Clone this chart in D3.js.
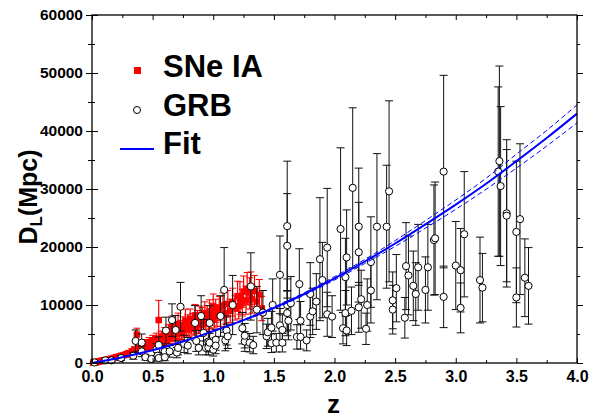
<!DOCTYPE html>
<html>
<head>
<meta charset="utf-8">
<script src="https://cdn.jsdelivr.net/npm/d3@7"></script>
<style>
  body { margin: 0; background: #fff; }
  svg { font-family: "Liberation Sans", Arial, sans-serif; font-weight: bold; }
</style>
</head>
<body>
<svg id="chart" width="590" height="420"></svg>
<script>
// SNe Ia: redshift, luminosity distance (Mpc), error
const snZ = [0.010,0.015,0.020,0.025,0.030,0.035,0.040,0.050,0.060,0.070,
  0.080,0.090,0.10,0.12,0.14,0.16,0.18,0.20,0.22,0.24,
  0.26,0.28,0.30,0.31,0.33,0.34,0.35,0.36,0.37,0.38,
  0.39,0.40,0.41,0.42,0.43,0.44,0.45,0.46,0.47,0.48,
  0.49,0.50,0.51,0.52,0.53,0.54,0.55,0.56,0.57,0.58,
  0.59,0.60,0.61,0.62,0.63,0.64,0.65,0.66,0.67,0.68,
  0.69,0.70,0.71,0.72,0.73,0.74,0.75,0.76,0.77,0.78,
  0.79,0.80,0.81,0.82,0.83,0.84,0.85,0.86,0.87,0.88,
  0.89,0.90,0.91,0.92,0.93,0.94,0.95,0.96,0.97,0.98,
  0.99,1.00,1.01,1.02,1.03,1.05,1.06,1.08,1.10,1.12,
  1.14,1.16,1.18,1.20,1.21,1.22,1.24,1.25,1.27,1.28,
  1.30,1.31,1.32,1.34,1.36,1.38,1.40];
const snD = [45,65,90,110,130,160,175,230,270,320,
  370,420,480,560,650,750,880,1000,1100,1250,
  1350,1500,1700,1500,2000,1750,2300,2100,4900,2500,
  2200,2700,2400,3100,2600,2900,3300,2750,3600,3000,
  3300,3900,3100,3500,4200,3300,7400,3800,4500,3600,
  4100,5000,4000,4600,5400,4300,4900,6300,4700,5300,
  5800,5000,6700,5400,6000,5200,6500,5700,7300,6100,
  6800,5900,7600,6400,7000,6200,8200,6700,7400,6500,
  8000,7100,7800,6800,8600,7300,8100,7000,8900,7600,
  8400,9700,7800,9000,8200,9400,8100,9900,8600,10200,
  9000,10500,9500,11500,9800,11200,10400,12300,10800,12800,
  12000,12900,11000,12400,10600,11800,9400];
const snErr = [10,14,20,25,30,35,40,50,60,70,
  80,90,110,120,140,170,200,220,240,280,
  300,330,380,330,450,400,500,460,1100,550,
  480,600,530,700,580,650,750,600,800,660,
  730,870,700,780,950,730,3400,850,1000,800,
  900,1100,880,1000,1200,950,1100,1800,1050,1200,
  1300,1100,1900,1200,1350,1150,1450,1250,2000,1350,
  1500,1300,1700,1400,1550,1400,1900,1500,1650,1450,
  1800,1600,1750,1500,1950,1600,1800,1550,2000,1700,
  1900,2200,1750,2000,1850,2100,1800,2200,1900,2300,
  2000,2400,2100,2600,2200,2800,2300,2700,2400,2800,
  2700,2800,2400,2700,2300,2600,2100];

// GRBs
const grbZ = [0.02,0.11,0.16,0.24,0.34,0.36,0.41,0.41,0.44,0.49,
  0.53,0.54,0.55,0.55,0.60,0.60,0.61,0.64,0.66,0.69,
  0.70,0.71,0.73,0.76,0.79,0.85,0.86,0.88,0.90,0.92,
  0.94,0.96,0.96,0.97,0.97,1.00,1.02,1.02,1.06,1.09,
  1.10,1.11,1.12,1.16,1.24,1.26,1.26,1.30,1.31,1.33,
  1.36,1.41,1.44,1.45,1.48,1.48,1.49,1.52,1.55,1.55,
  1.57,1.57,1.61,1.61,1.61,1.61,1.62,1.64,1.69,1.71,
  1.72,1.72,1.77,1.80,1.80,1.82,1.85,1.88,1.90,1.94,
  1.94,1.98,2.05,2.07,2.09,2.09,2.10,2.10,2.14,2.15,
  2.20,2.20,2.20,2.22,2.26,2.27,2.30,2.30,2.35,2.43,
  2.45,2.48,2.48,2.51,2.58,2.59,2.61,2.65,2.67,2.69,
  2.75,2.77,2.82,2.83,2.90,2.90,3.00,3.04,3.04,3.07,
  3.20,3.22,3.35,3.36,3.37,3.42,3.42,3.50,3.50,3.53,
  3.57,3.60];
const grbD = [100,450,450,860,1250,3800,3500,2000,1000,690,
  2300,1250,3100,860,2000,1000,5600,2000,7400,5700,
  1800,2600,9700,3300,3000,6900,3800,2600,8100,5200,
  2600,3700,2700,6900,3500,2300,4000,3000,8100,12600,
  3900,5600,4600,10000,6000,3700,4700,3500,13200,3100,
  9200,8700,4600,5300,6100,3400,10000,3500,15200,6500,
  5700,3500,23600,20200,8600,10000,7300,10300,4500,13600,
  7300,4500,3900,11900,8000,8900,10600,17900,14300,19900,
  8400,8000,23100,6000,8600,14800,5600,18200,9000,30200,
  23500,19100,9600,11000,5900,10000,12500,17400,23500,23500,
  29600,10800,9200,12900,7800,16700,15100,13300,11900,16500,
  12600,16500,21200,21500,33000,11400,16800,16000,9500,22200,
  14300,13000,33000,34800,30500,25800,25400,22600,11300,24800,
  14700,13300];
const grbErr = [60,200,250,400,600,1900,1500,900,500,400,
  1000,600,1400,500,1000,600,2300,1000,2800,2500,
  900,1200,4200,1500,1400,3000,1800,1200,3500,2300,
  1200,1700,1300,3000,1600,1100,1800,1400,3500,7300,
  1800,2500,2100,5100,2700,1700,2100,1600,5800,1500,
  4000,3800,2100,2400,2800,1600,4500,1600,6700,2900,
  2600,1600,11200,9000,3900,4500,3300,4600,2100,6100,
  3300,2100,1800,5400,3600,4000,4800,10600,6500,10200,
  3800,3600,14000,2700,3900,6700,2600,8200,4100,13800,
  10100,8600,4300,5000,2700,4500,5600,7800,12600,10600,
  15600,4900,4200,5800,3500,7500,6800,6000,5400,7400,
  5700,7400,9500,9700,16600,5300,7600,7200,4300,10800,
  7400,5900,14600,16400,13700,12700,11400,12200,5100,13000,
  6700,6600];

// fit curve and its band
const fitZ  = [0,0.25,0.5,0.75,1,1.25,1.5,1.75,2,2.25,2.5,2.75,3,3.25,3.5,3.75,4];
const fitD  = [0,1000,2200,3700,5500,7400,9500,11900,14600,17500,20600,23900,27300,30900,34800,38800,43000];
const fitHi = [0,1000,2200,3700,5550,7500,9650,12100,14900,17850,21100,24550,28100,31850,36000,40100,44500];
const fitLo = [0,1000,2200,3700,5450,7300,9350,11700,14300,17150,20100,23250,26500,29950,33600,37400,41400];

const xMajor = [0,0.5,1,1.5,2,2.5,3,3.5,4];
const xMinor = [0.25,0.75,1.25,1.75,2.25,2.75,3.25,3.75];
const yMajor = [0,10000,20000,30000,40000,50000,60000];
const yMinor = [5000,15000,25000,35000,45000,55000];

const plot = {left: 92, right: 577, top: 15, bottom: 363};
const svg = d3.select("#chart");
const x = d3.scaleLinear().domain([0, 4]).range([plot.left, plot.right]);
const y = d3.scaleLinear().domain([0, 60000]).range([plot.bottom, plot.top]);

// SNe Ia
const sn = snZ.map((z, i) => ({z: z, d: snD[i], e: snErr[i]}));
const snG = svg.append("g");
snG.selectAll(null).data(sn).enter().append("line")
  .attr("x1", d => x(d.z)).attr("x2", d => x(d.z))
  .attr("y1", d => y(d.d - d.e)).attr("y2", d => y(d.d + d.e))
  .attr("stroke", "#ff0000").attr("stroke-width", 1.2);
[-1, 1].forEach(s => {
  snG.selectAll(null).data(sn).enter().append("line")
    .attr("x1", d => x(d.z) - 3.5).attr("x2", d => x(d.z) + 3.5)
    .attr("y1", d => y(d.d + s * d.e)).attr("y2", d => y(d.d + s * d.e))
    .attr("stroke", "#ff0000").attr("stroke-width", 1);
});
snG.selectAll("rect").data(sn).enter().append("rect")
  .attr("x", d => x(d.z) - 3.25).attr("y", d => y(d.d) - 3.25)
  .attr("width", 6.5).attr("height", 6.5).attr("fill", "#ff0000");

// GRBs
const grb = grbZ.map((z, i) => ({z: z, d: grbD[i], e: grbErr[i]}));
const grbG = svg.append("g");
grbG.selectAll(null).data(grb).enter().append("line")
  .attr("x1", d => x(d.z)).attr("x2", d => x(d.z))
  .attr("y1", d => y(d.d - d.e)).attr("y2", d => y(d.d + d.e))
  .attr("stroke", "#111").attr("stroke-width", 1);
[-1, 1].forEach(s => {
  grbG.selectAll(null).data(grb).enter().append("line")
    .attr("x1", d => x(d.z) - 4).attr("x2", d => x(d.z) + 4)
    .attr("y1", d => y(d.d + s * d.e)).attr("y2", d => y(d.d + s * d.e))
    .attr("stroke", "#111").attr("stroke-width", 1);
});
grbG.selectAll("circle").data(grb).enter().append("circle")
  .attr("cx", d => x(d.z)).attr("cy", d => y(d.d)).attr("r", 3.6)
  .attr("fill", "#fff").attr("stroke", "#000").attr("stroke-width", 1);

// fit
const line = d3.line().x(d => x(d[0])).y(d => y(d[1])).curve(d3.curveMonotoneX);
svg.append("path").datum(fitZ.map((z, i) => [z, fitHi[i]]))
  .attr("d", line).attr("fill", "none").attr("stroke", "#0000ff")
  .attr("stroke-width", 1).attr("stroke-dasharray", "5,3");
svg.append("path").datum(fitZ.map((z, i) => [z, fitLo[i]]))
  .attr("d", line).attr("fill", "none").attr("stroke", "#0000ff")
  .attr("stroke-width", 1).attr("stroke-dasharray", "5,3");
svg.append("path").datum(fitZ.map((z, i) => [z, fitD[i]]))
  .attr("d", line).attr("fill", "none").attr("stroke", "#0000ff")
  .attr("stroke-width", 2);

// frame and axes
svg.append("rect").attr("x", plot.left).attr("y", plot.top)
  .attr("width", plot.right - plot.left).attr("height", plot.bottom - plot.top)
  .attr("fill", "none").attr("stroke", "#000").attr("stroke-width", 1.3);

const xAxis = svg.append("g").attr("transform", `translate(0,${plot.bottom})`)
  .call(d3.axisBottom(x).tickValues(xMajor).tickSizeInner(-5).tickSizeOuter(0)
    .tickPadding(8).tickFormat(d3.format(".1f")));
svg.append("g").attr("transform", `translate(0,${plot.bottom})`)
  .call(d3.axisBottom(x).tickValues(xMinor).tickSizeInner(-3).tickSizeOuter(0).tickFormat(""));
svg.append("g").attr("transform", `translate(0,${plot.top})`)
  .call(d3.axisTop(x).tickValues(xMajor).tickSizeInner(-5).tickSizeOuter(0).tickFormat(""));
svg.append("g").attr("transform", `translate(0,${plot.top})`)
  .call(d3.axisTop(x).tickValues(xMinor).tickSizeInner(-3).tickSizeOuter(0).tickFormat(""));

const yAxis = svg.append("g").attr("transform", `translate(${plot.left},0)`)
  .call(d3.axisLeft(y).tickValues(yMajor).tickSizeInner(6).tickSizeOuter(0)
    .tickPadding(3).tickFormat(d3.format("d")));
svg.append("g").attr("transform", `translate(${plot.left},0)`)
  .call(d3.axisRight(y).tickValues(yMajor).tickSizeInner(6).tickSizeOuter(0).tickFormat(""));
svg.append("g").attr("transform", `translate(${plot.left},0)`)
  .call(d3.axisLeft(y).tickValues(yMinor).tickSizeInner(4).tickSizeOuter(0).tickFormat(""));
svg.append("g").attr("transform", `translate(${plot.left},0)`)
  .call(d3.axisRight(y).tickValues(yMinor).tickSizeInner(3).tickSizeOuter(0).tickFormat(""));
svg.append("g").attr("transform", `translate(${plot.right},0)`)
  .call(d3.axisLeft(y).tickValues(yMajor).tickSizeInner(-6).tickSizeOuter(0).tickFormat(""));
svg.append("g").attr("transform", `translate(${plot.right},0)`)
  .call(d3.axisLeft(y).tickValues(yMinor).tickSizeInner(-3).tickSizeOuter(0).tickFormat(""));

svg.selectAll(".domain").remove();
svg.selectAll(".tick line").attr("stroke", "#000").attr("stroke-width", 1);
xAxis.selectAll("text").attr("font-size", 16).attr("font-weight", "bold")
  .attr("font-family", "Liberation Sans, Arial, sans-serif").attr("fill", "#000");
yAxis.selectAll("text").attr("font-size", 15.5).attr("font-weight", "bold")
  .attr("font-family", "Liberation Sans, Arial, sans-serif").attr("fill", "#000");

// axis titles
svg.append("text").attr("x", (plot.left + plot.right) / 2 - 1).attr("y", 413)
  .attr("text-anchor", "middle").attr("font-size", 26).text("z");
const yt = svg.append("text")
  .attr("transform", "translate(37,197) rotate(-90)")
  .attr("text-anchor", "middle").attr("font-size", 25);
yt.append("tspan").text("D");
yt.append("tspan").attr("font-size", 17).attr("dy", 5).text("L");
yt.append("tspan").attr("dy", -5).text("(Mpc)");

// legend
const lg = svg.append("g");
lg.append("rect").attr("x", 134).attr("y", 67).attr("width", 7).attr("height", 7).attr("fill", "#ff0000");
lg.append("circle").attr("cx", 137).attr("cy", 110).attr("r", 3.5)
  .attr("fill", "#fff").attr("stroke", "#000");
lg.append("line").attr("x1", 120).attr("x2", 154).attr("y1", 149).attr("y2", 149)
  .attr("stroke", "#0000ff").attr("stroke-width", 2);
const legNames = ["SNe IA", "GRB", "Fit"];
lg.selectAll("text").data(legNames).enter().append("text")
  .attr("x", 163).attr("y", (d, i) => 77 + i * 38.5)
  .attr("font-size", 31).text(d => d);
</script>
</body>
</html>
